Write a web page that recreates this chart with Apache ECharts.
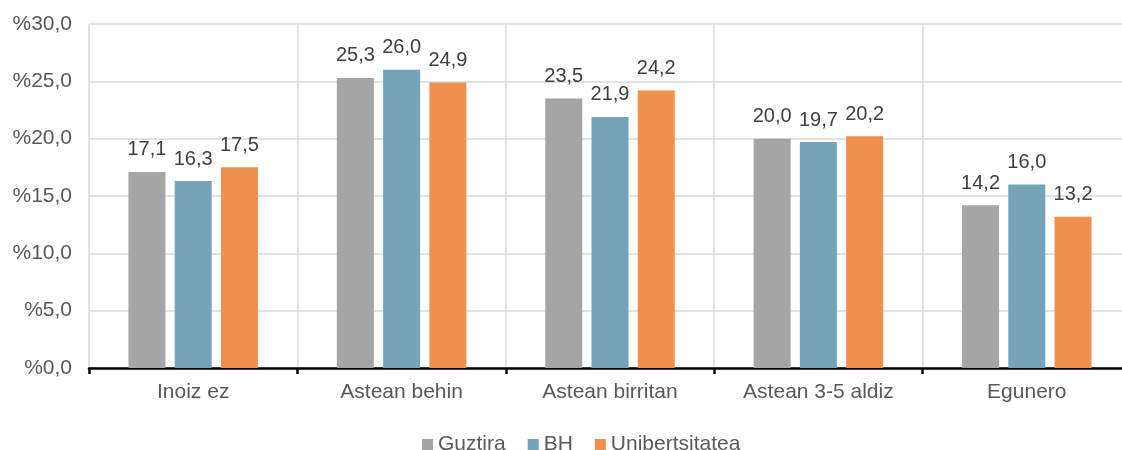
<!DOCTYPE html>
<html><head><meta charset="utf-8">
<script src="https://cdn.jsdelivr.net/npm/echarts@6/dist/echarts.min.js"></script>
<style>html,body{margin:0;padding:0;background:#fff}#c{width:1122px;height:450px}</style>
</head><body><div id="c"></div>
<script>
const categories = ['Inoiz ez', 'Astean behin', 'Astean birritan', 'Astean 3-5 aldiz', 'Egunero'];
const guztira = [17.1, 25.3, 23.5, 20.0, 14.2];
const bh = [16.3, 26.0, 21.9, 19.7, 16.0];
const unibertsitatea = [17.5, 24.9, 24.2, 20.2, 13.2];
const seriesNames = ['Guztira', 'BH', 'Unibertsitatea'];
const colors = ['#a5a5a5', '#75a3b8', '#ef904f'];

const fmt = v => v.toFixed(1).replace('.', ',');
const chart = echarts.init(document.getElementById('c'), null, {renderer: 'canvas'});
const mk = (name, data, color) => ({
  name, type: 'bar', data, barWidth: 37, barGap: '25%',
  itemStyle: {color},
  label: {show: true, position: 'top', distance: 12, color: '#404040',
    fontFamily: 'Liberation Sans', fontSize: 20, formatter: p => fmt(p.value)}
});
chart.setOption({
  animation: false,
  textStyle: {fontFamily: 'Liberation Sans'},
  grid: {left: 89, width: 1042, top: 24, bottom: 82, outerBoundsMode: 'none'},
  legend: {
    top: 429, left: 417, itemWidth: 11, itemHeight: 11, itemGap: 22,
    icon: 'rect',
    textStyle: {fontSize: 21, color: '#595959', fontFamily: 'Liberation Sans'},
    data: seriesNames
  },
  xAxis: {
    type: 'category', data: categories,
    axisLine: {show: true, lineStyle: {color: '#000', width: 2.5}},
    axisTick: {show: true, length: 6, lineStyle: {color: '#000', width: 2.5}},
    axisLabel: {fontSize: 21, color: '#595959', margin: 14},
    splitLine: {show: true, lineStyle: {color: '#d9d9d9', width: 1.5}}
  },
  yAxis: {
    type: 'value', min: 0, max: 30, interval: 5,
    axisLine: {show: false}, axisTick: {show: false},
    axisLabel: {fontSize: 21, color: '#595959', margin: 17,
      formatter: v => '%' + v.toFixed(1).replace('.', ',')},
    splitLine: {lineStyle: {color: '#d9d9d9', width: 1.5}}
  },
  series: [
    mk(seriesNames[0], guztira, colors[0]),
    mk(seriesNames[1], bh, colors[1]),
    mk(seriesNames[2], unibertsitatea, colors[2])
  ]
});
</script></body></html>
